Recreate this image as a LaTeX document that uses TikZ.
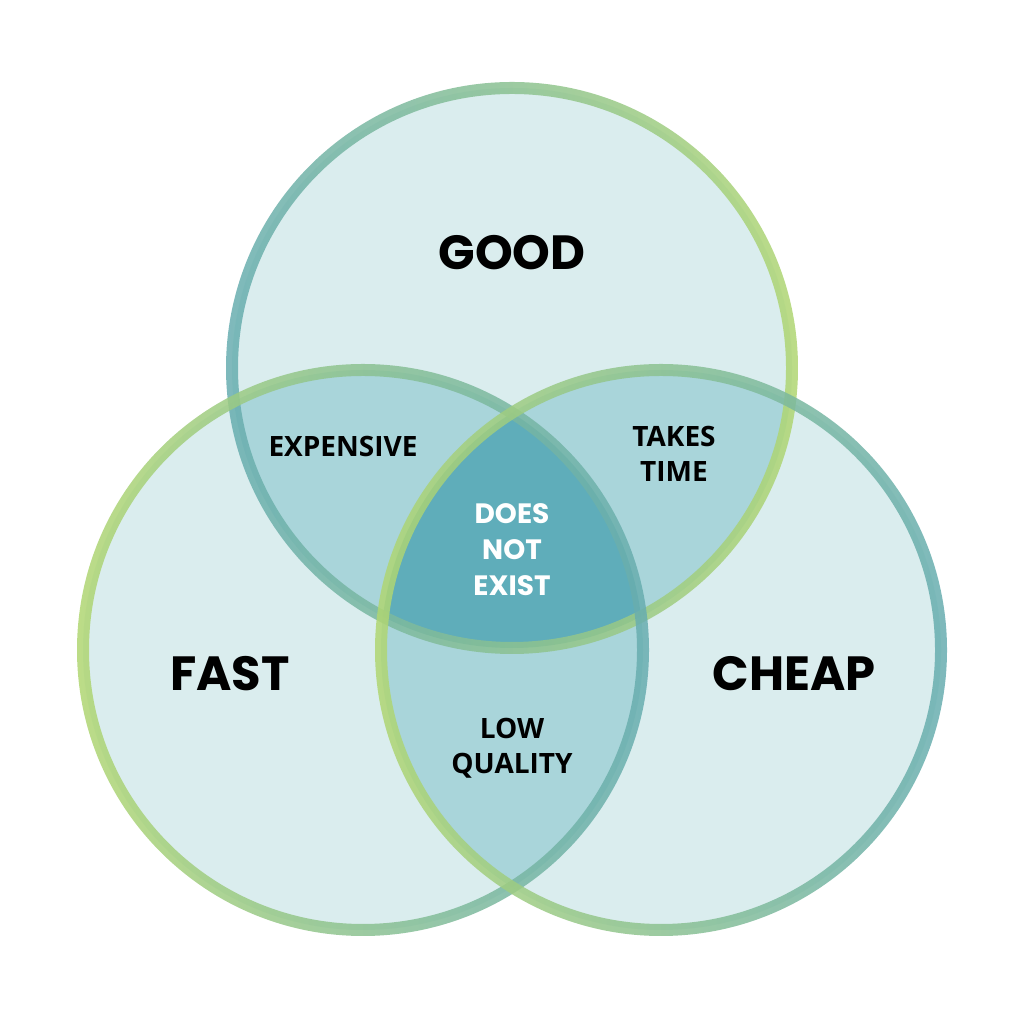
\documentclass[tikz,border=0pt]{standalone}
\usepackage{fontspec}
\newfontfamily\poppins{Poppins}
\newfontfamily\opensans{Open Sans}
\usetikzlibrary{positioning}
\definecolor{single}{HTML}{DAEDEE}
\definecolor{pair}{HTML}{A9D5DA}
\definecolor{triple}{HTML}{5FADBA}
\definecolor{ringgreen}{HTML}{B0D672}
\definecolor{ringteal}{HTML}{67ADB0}

\begin{document}
\begin{tikzpicture}[x=1pt, y=1pt,
    big/.style={font=\poppins\bfseries\fontsize{48}{48}\selectfont},
    small/.style={font=\opensans\bfseries\fontsize{28}{35}\selectfont, align=center},
    ring/.style={even odd rule, opacity=.85}]
  \useasboundingbox (0,0) rectangle (1024,1024);
  \coordinate (G) at (512,656);
  \coordinate (F) at (363,374);
  \coordinate (C) at (661,374);

  % fills
  \foreach \c in {G,F,C} \fill[single] (\c) circle (280);
  \begin{scope}
    \clip (G) circle (280);
    \fill[pair] (F) circle (280);
    \fill[pair] (C) circle (280);
  \end{scope}
  \begin{scope}
    \clip (F) circle (280);
    \fill[pair] (C) circle (280);
  \end{scope}
  \begin{scope}
    \clip (G) circle (280);
    \clip (F) circle (280);
    \fill[triple] (C) circle (280);
  \end{scope}

  % rings
  \shade[ring, left color=ringteal, right color=ringgreen] (G) circle (286) (G) circle (274);
  \shade[ring, left color=ringgreen, right color=ringteal] (F) circle (286) (F) circle (274);
  \shade[ring, left color=ringgreen, right color=ringteal] (C) circle (286) (C) circle (274);

  \node[big] (good) at (512,771) {GOOD};
  \node[big] (fast) at (230,350) {FAST};
  \node[big] (cheap) at (794,350) {CHEAP};
  \node[small] (expensive) at (343,577) {EXPENSIVE};
  \node[small] (takestime) at (674,570) {TAKES\\TIME};
  \node[small] (lowquality) at (512,276) {LOW\\QUALITY};
  \node[font=\poppins\bfseries\fontsize{28}{36}\selectfont, align=center, text=white] (none) at (512,474) {DOES\\NOT\\EXIST};
\end{tikzpicture}
\end{document}
